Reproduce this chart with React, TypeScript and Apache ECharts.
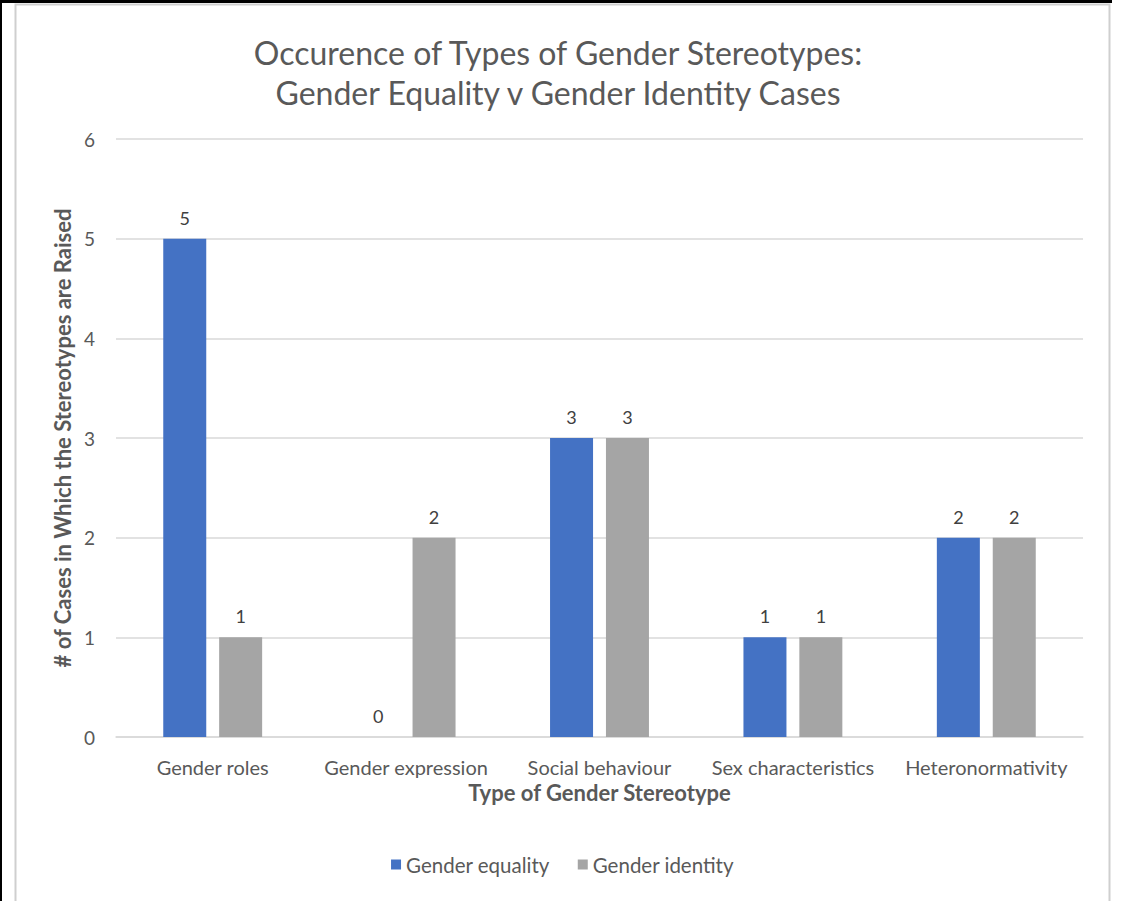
import React, { useEffect, useRef } from "react";
import * as echarts from "echarts";

const categories = [
  "Gender roles",
  "Gender expression",
  "Social behaviour",
  "Sex characteristics",
  "Heteronormativity",
];
const genderEquality = [5, 0, 3, 1, 2];
const genderIdentity = [1, 2, 3, 1, 2];
const yTicks = [0, 1, 2, 3, 4, 5, 6];

const FONT = "Lato, 'Open Sans', sans-serif";

export default function App() {
  const ref = useRef<HTMLDivElement>(null);
  useEffect(() => {
    if (!ref.current) return;
    const chart = echarts.init(ref.current, undefined, { renderer: "svg" });
    const labelCfg = {
      show: true,
      position: "top" as const,
      distance: 12,
      color: "#404040",
      fontSize: 18,
      fontFamily: FONT,
    };
    chart.setOption({
      animation: false,
      backgroundColor: "#ffffff",
      graphic: [
        { type: "rect", shape: { x: 0, y: 0, width: 1112, height: 3 }, style: { fill: "#000" }, silent: true },
        { type: "rect", shape: { x: 0, y: 0, width: 2, height: 901 }, style: { fill: "#000" }, silent: true },
        {
          type: "rect",
          shape: { x: 15.5, y: 4.5, width: 1094, height: 1000 },
          style: { fill: "none", stroke: "#cfcfcf", lineWidth: 2 },
          silent: true,
        },
      ],
      title: {
        text: "Occurence of Types of Gender Stereotypes:\nGender Equality v Gender Identity Cases",
        left: 553,
        textAlign: "center",
        top: 27,
        textStyle: {
          color: "#595959",
          fontSize: 32,
          fontWeight: "normal",
          fontFamily: FONT,
          lineHeight: 40,
        },
      },
      legend: {
        data: ["Gender equality", "Gender identity"],
        bottom: 21,
        left: "center",
        icon: "rect",
        itemWidth: 10,
        itemHeight: 10,
        itemGap: 28,
        textStyle: { color: "#595959", fontSize: 20.5, fontFamily: FONT },
      },
      grid: { left: 116, right: 42, top: 139, bottom: 164 },
      xAxis: {
        type: "category",
        data: categories,
        name: "Type of Gender Stereotype",
        nameLocation: "middle",
        nameGap: 44,
        nameTextStyle: { color: "#595959", fontSize: 22, fontWeight: "bold", fontFamily: FONT },
        axisLine: { lineStyle: { color: "#d9d9d9", width: 1.5 } },
        axisTick: { show: false },
        axisLabel: {
          color: "#595959",
          fontSize: 20,
          fontFamily: FONT,
          margin: 20,
          interval: 0,
          hideOverlap: false,
        },
      },
      yAxis: {
        type: "value",
        min: yTicks[0],
        max: yTicks[yTicks.length - 1],
        interval: 1,
        name: "# of Cases in Which the Stereotypes are Raised",
        nameLocation: "middle",
        nameGap: 42,
        nameTextStyle: { color: "#595959", fontSize: 22, fontWeight: "bold", fontFamily: FONT },
        axisLine: { show: false },
        axisTick: { show: false },
        axisLabel: { color: "#595959", fontSize: 19, fontFamily: FONT, margin: 21 },
        splitLine: { lineStyle: { color: "#d9d9d9", width: 1.5 } },
      },
      series: [
        {
          name: "Gender equality",
          type: "bar",
          data: genderEquality,
          barWidth: 43,
          barGap: "30%",
          itemStyle: { color: "#4472C4" },
          label: labelCfg,
        },
        {
          name: "Gender identity",
          type: "bar",
          data: genderIdentity,
          barWidth: 43,
          barGap: "30%",
          itemStyle: { color: "#A5A5A5" },
          label: labelCfg,
        },
      ],
    });
    return () => chart.dispose();
  }, []);
  return (
    <div
      ref={ref}
      style={{ position: "absolute", left: 0, top: 0, width: 1125, height: 901 }}
    />
  );
}
